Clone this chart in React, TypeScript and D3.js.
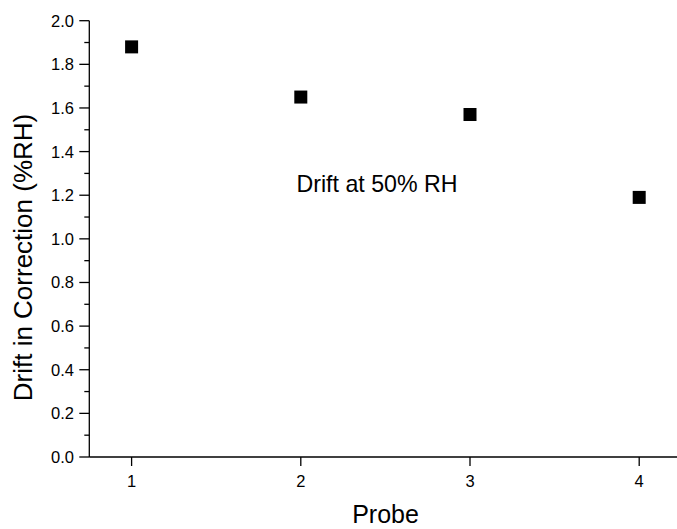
import React, { useEffect, useRef } from "react";
import * as d3 from "d3";

const probes = [1, 2, 3, 4];
const drift = [1.88, 1.65, 1.57, 1.19];
const xTicks = [1, 2, 3, 4];
const yTicks = [0, 0.2, 0.4, 0.6, 0.8, 1.0, 1.2, 1.4, 1.6, 1.8, 2.0];
const yMinor = [0.1, 0.3, 0.5, 0.7, 0.9, 1.1, 1.3, 1.5, 1.7, 1.9];

const W = 677;
const H = 529;
const FONT = "Arial, 'Liberation Sans', sans-serif";

export default function App() {
  const ref = useRef<SVGSVGElement>(null);
  useEffect(() => {
    const svg = d3.select(ref.current);
    svg.selectAll("*").remove();
    const x = d3.scaleLinear().domain([0.75, 4.25]).range([89.3, 681.5]);
    const y = d3.scaleLinear().domain([0, 2]).range([457, 20.7]);

    const g = svg.append("g");
    // axes lines
    g.append("line").attr("x1", x(0.75)).attr("x2", x(4.25)).attr("y1", y(0)).attr("y2", y(0))
      .attr("stroke", "#000").attr("stroke-width", 1.3);
    g.append("line").attr("x1", x(0.75)).attr("x2", x(0.75)).attr("y1", y(0)).attr("y2", y(2))
      .attr("stroke", "#000").attr("stroke-width", 1.3);

    // y major ticks
    yTicks.forEach((t) => {
      g.append("line").attr("x1", x(0.75) - 10).attr("x2", x(0.75)).attr("y1", y(t)).attr("y2", y(t))
        .attr("stroke", "#000").attr("stroke-width", 1.3);
      g.append("text").attr("x", 74).attr("y", y(t)).attr("dy", "0.36em")
        .attr("text-anchor", "end").attr("font-family", FONT).attr("font-size", 16.5)
        .text(d3.format(".1f")(t));
    });
    yMinor.forEach((t) => {
      g.append("line").attr("x1", x(0.75) - 5).attr("x2", x(0.75)).attr("y1", y(t)).attr("y2", y(t))
        .attr("stroke", "#000").attr("stroke-width", 1.3);
    });
    // x ticks
    xTicks.forEach((t) => {
      g.append("line").attr("x1", x(t)).attr("x2", x(t)).attr("y1", y(0)).attr("y2", y(0) + 9)
        .attr("stroke", "#000").attr("stroke-width", 1.3);
      g.append("text").attr("x", x(t)).attr("y", 486.5)
        .attr("text-anchor", "middle").attr("font-family", FONT).attr("font-size", 16.5)
        .text(String(t));
    });

    // points
    g.selectAll("rect.pt").data(probes).enter().append("rect")
      .attr("class", "pt")
      .attr("x", (d) => x(d) - 6.5)
      .attr("y", (d, i) => y(drift[i]) - 6.5)
      .attr("width", 13).attr("height", 13)
      .attr("fill", "#000");

    // annotation
    g.append("text").attr("x", 296.5).attr("y", 192.3)
      .attr("font-family", FONT).attr("font-size", 23.2)
      .text("Drift at 50% RH");

    // axis titles
    g.append("text").attr("x", 385.5).attr("y", 523)
      .attr("text-anchor", "middle").attr("font-family", FONT).attr("font-size", 25)
      .text("Probe");
    g.append("text").attr("transform", "translate(32,257.5) rotate(-90)")
      .attr("text-anchor", "middle").attr("font-family", FONT).attr("font-size", 26)
      .text("Drift in Correction (%RH)");
  }, []);

  return (
    <svg ref={ref} width={W} height={H}
      style={{ position: "absolute", left: 0, top: 0, background: "#fff" }} />
  );
}
